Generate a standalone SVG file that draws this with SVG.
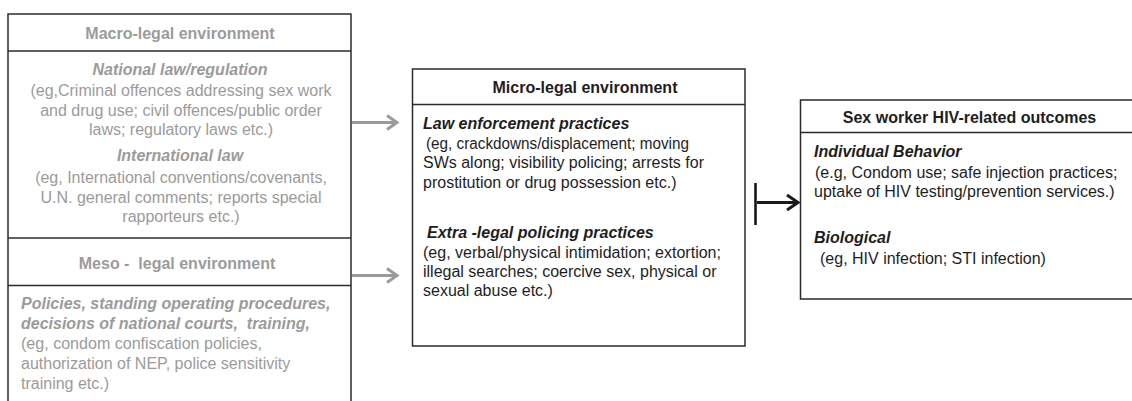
<svg xmlns="http://www.w3.org/2000/svg" width="1132" height="401" viewBox="0 0 1132 401">
<style>
.box{fill:#fff;stroke:#2b2b2b;stroke-width:1.5}
.sep{stroke:#2b2b2b;stroke-width:1.5;fill:none}
.g{fill:#9b9b9b;font-family:"Liberation Sans",Arial,sans-serif;font-size:16px}
.k{fill:#1e1e1e;font-family:"Liberation Sans",Arial,sans-serif;font-size:16px}
.b{font-weight:bold}
.bi{font-weight:bold;font-style:italic}
.c{text-anchor:middle}
.ga{stroke:#9b9b9b;stroke-width:3;fill:none}
.ka{stroke:#1a1a1a;stroke-width:3;fill:none}
</style>
<rect width="1132" height="401" fill="#fff"/>
<g id="macro-meso">
<rect class="box" x="8" y="14" width="343" height="400"/>
<line class="sep" x1="8" y1="51" x2="351" y2="51"/>
<line class="sep" x1="8" y1="238" x2="351" y2="238"/>
<line class="sep" x1="8" y1="285.5" x2="351" y2="285.5"/>
<text class="g b c" x="180" y="39">Macro-legal environment</text>
<text class="g bi c" x="180" y="75">National law/regulation</text>
<text class="g c" x="181" y="96">(eg,Criminal offences addressing sex work</text>
<text class="g c" x="181" y="116">and drug use; civil offences/public order</text>
<text class="g c" x="181" y="135">laws; regulatory laws etc.)</text>
<text class="g bi c" x="180" y="161">International law</text>
<text class="g c" x="181" y="183">(eg, International conventions/covenants,</text>
<text class="g c" x="181" y="203">U.N. general comments; reports special</text>
<text class="g c" x="181" y="222">rapporteurs etc.)</text>
<text class="g b c" x="177" y="269" xml:space="preserve">Meso -  legal environment</text>
<text class="g bi" x="21" y="309">Policies, standing operating procedures,</text>
<text class="g bi" x="21" y="329" xml:space="preserve">decisions of national courts,  training,</text>
<text class="g" x="21" y="349" textLength="241" lengthAdjust="spacingAndGlyphs">(eg, condom confiscation policies,</text>
<text class="g" x="21" y="369">authorization of NEP, police sensitivity</text>
<text class="g" x="21" y="389">training etc.)</text>
</g>
<g id="micro">
<rect class="box" x="412.5" y="69" width="332.5" height="277"/>
<line class="sep" x1="412.5" y1="104.5" x2="745" y2="104.5"/>
<text class="k b c" x="585" y="93">Micro-legal environment</text>
<text class="k bi" x="423" y="129">Law enforcement practices</text>
<text class="k" x="426" y="149" textLength="263" lengthAdjust="spacingAndGlyphs">(eg, crackdowns/displacement; moving</text>
<text class="k" x="423" y="168">SWs along; visibility policing; arrests for</text>
<text class="k" x="423" y="188">prostitution or drug possession etc.)</text>
<text class="k bi" x="427" y="238">Extra -legal policing practices</text>
<text class="k" x="423" y="258">(eg, verbal/physical intimidation; extortion;</text>
<text class="k" x="423" y="277">illegal searches; coercive sex, physical or</text>
<text class="k" x="423" y="296">sexual abuse etc.)</text>
</g>
<g id="outcomes">
<rect class="box" x="800.5" y="100" width="340" height="199"/>
<line class="sep" x1="800.5" y1="132.5" x2="1132" y2="132.5"/>
<text class="k b c" x="969.5" y="123">Sex worker HIV-related outcomes</text>
<text class="k bi" x="814" y="157">Individual Behavior</text>
<text class="k" x="815" y="178">(e.g, Condom use; safe injection practices;</text>
<text class="k" x="814" y="197">uptake of HIV testing/prevention services.)</text>
<text class="k bi" x="814" y="243">Biological</text>
<text class="k" x="820" y="264">(eg, HIV infection; STI infection)</text>
</g>
<g id="connectors">
<line class="ga" x1="352" y1="122.5" x2="397" y2="122.5"/>
<polyline class="ga" points="387,115.5 397,122.5 387,129.5"/>
<line class="ga" x1="352" y1="275.5" x2="397" y2="275.5"/>
<polyline class="ga" points="387,268.5 397,275.5 387,282.5"/>
<line x1="755.5" y1="183" x2="755.5" y2="225" stroke="#111" stroke-width="2.5"/>
<line class="ka" x1="757" y1="202.5" x2="798" y2="202.5"/>
<polyline class="ka" points="787,195 798,202.5 787,210"/>
</g>
</svg>
